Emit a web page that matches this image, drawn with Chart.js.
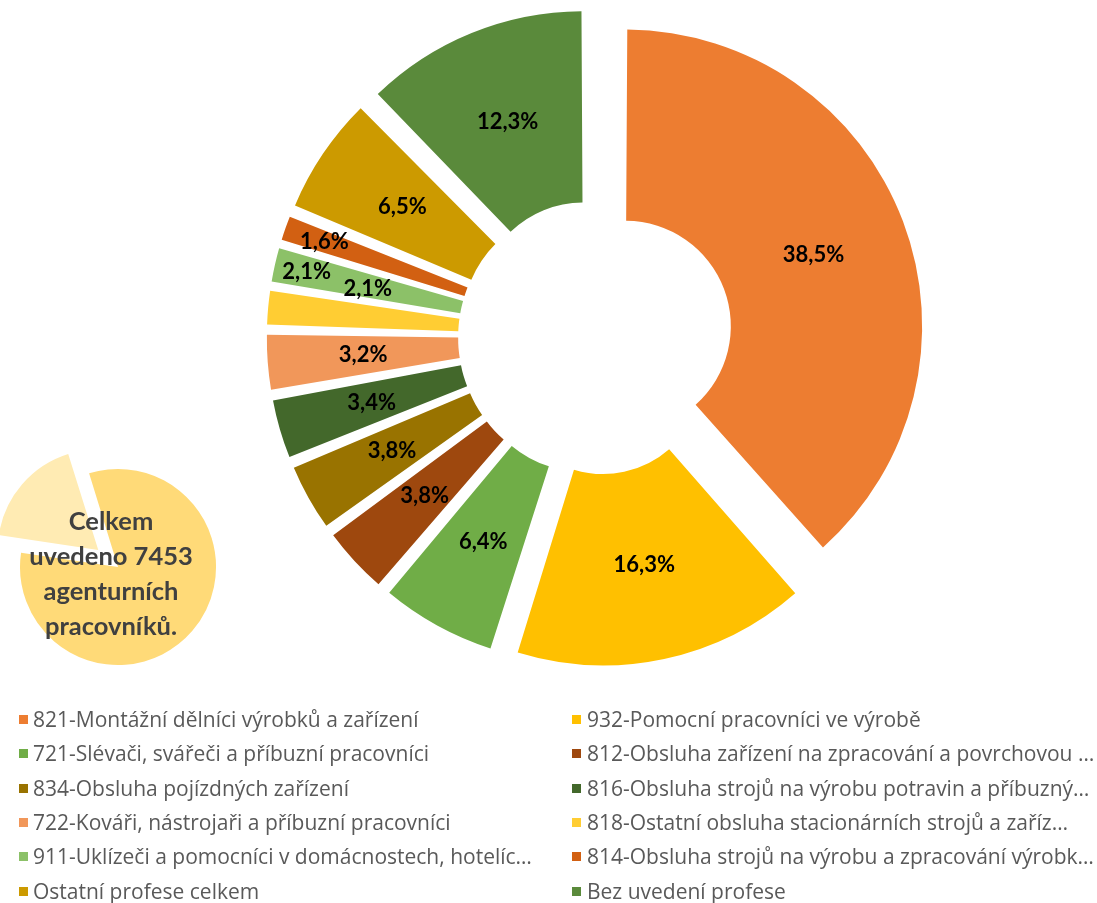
<!DOCTYPE html>
<html>
<head>
<meta charset="utf-8">
<script src="https://cdn.jsdelivr.net/npm/chart.js@4.4.0/dist/chart.umd.min.js"></script>
<style>
html,body{margin:0;padding:0;background:#fff;}
#wrap{position:relative;width:1097px;height:903px;overflow:hidden;background:#fff;}
#mainCanvas{position:absolute;left:0;top:0;}
#insetCanvas{position:absolute;left:0;top:447px;}
#insetText{position:absolute;left:11px;top:503px;width:200px;text-align:center;font:bold 25.5px Lato, sans-serif;line-height:35px;color:#404040;}
.lt{position:absolute;font:21px "Open Sans", sans-serif;line-height:26px;color:#595959;white-space:nowrap;}
.ls{position:absolute;width:9px;height:9px;}
</style>
</head>
<body>
<div id="wrap">
  <canvas id="mainCanvas" width="1097" height="903"></canvas>
  <canvas id="insetCanvas" width="236" height="240"></canvas>
  <div id="insetText"></div>
  <div id="legend"></div>
</div>
<script>
// ---- data ----
const categories = [
  '821-Montážní dělníci výrobků a zařízení',
  '932-Pomocní pracovníci ve výrobě',
  '721-Slévači, svářeči a příbuzní pracovníci',
  '812-Obsluha zařízení na zpracování a povrchovou …',
  '834-Obsluha pojízdných zařízení',
  '816-Obsluha strojů na výrobu potravin a příbuzný…',
  '722-Kováři, nástrojaři a příbuzní pracovníci',
  '818-Ostatní obsluha stacionárních strojů a zaříz…',
  '911-Uklízeči a pomocníci v domácnostech, hotelíc…',
  '814-Obsluha strojů na výrobu a zpracování výrobk…',
  'Ostatní profese celkem',
  'Bez uvedení profese'
];
const shares = [38.5, 16.3, 6.4, 3.8, 3.8, 3.4, 3.2, 2.1, 2.1, 1.6, 6.5, 12.3];
const colors = ['#ED7D31','#FFC000','#70AD47','#9E480E','#997300','#43682B',
                '#F1975A','#FFCD33','#8CC168','#D26012','#CC9A00','#5A8A3B'];
const totalWorkers = 7453;
const insetShares = [17.9, 82.1];
const insetColors = ['#FFEBB3', '#FFDA78'];

// ---- main doughnut ----
const TOTAL = shares.reduce((a, b) => a + b, 0);
const EXPLODE = 43;
function arcOffset(v) {
  const c = 2 * Math.PI * v / TOTAL;
  const fix = 1 - Math.sin(Math.min(Math.PI, c));
  return 4 * EXPLODE / (1 + fix);
}

const labelPlugin = {
  id: 'sliceLabels',
  afterDatasetsDraw(chart, args, opts) {
    const ctx = chart.ctx;
    const meta = chart.getDatasetMeta(0);
    ctx.save();
    ctx.font = 'bold 22px Lato, sans-serif';
    ctx.fillStyle = '#000';
    ctx.textAlign = 'center';
    ctx.textBaseline = 'middle';
    meta.data.forEach((arc, i) => {
      const p = arc.getProps(['x','y','startAngle','endAngle','innerRadius','outerRadius','circumference'], true);
      const t = (arc.options.offset || 0) / 4;
      const fix = 1 - Math.sin(Math.min(Math.PI, p.circumference));
      const mid = (p.startAngle + p.endAngle) / 2;
      const lm = mid + (opts.shift[i] || 0) * 2 * Math.PI / 100;
      const frac = opts.radius[i] !== undefined ? opts.radius[i] : 0.5;
      const r = p.innerRadius + t * fix + frac * (p.outerRadius - p.innerRadius);
      const px = p.x + Math.cos(mid) * t + Math.cos(lm) * r;
      const py = p.y + Math.sin(mid) * t + Math.sin(lm) * r;
      ctx.fillText(shares[i].toFixed(1).replace('.', ',') + '%', px, py);
    });
    ctx.restore();
  }
};

new Chart(document.getElementById('mainCanvas'), {
  type: 'doughnut',
  data: {
    labels: categories,
    datasets: [{
      data: shares,
      backgroundColor: colors,
      borderWidth: 0,
      offset: shares.map(arcOffset),
      hoverOffset: 0
    }]
  },
  options: {
    responsive: false,
    animation: false,
    events: [],
    radius: 285.7,
    cutout: '33.04%',
    layout: { padding: { left: 94, right: 0, top: 0, bottom: 228 } },
    plugins: {
      legend: { display: false },
      tooltip: { enabled: false },
      sliceLabels: {
        radius: {8: 0.83, 9: 0.785},
        shift: {7: 2.1}
      }
    }
  },
  plugins: [labelPlugin]
});

// ---- inset pie ----
new Chart(document.getElementById('insetCanvas'), {
  type: 'pie',
  data: {
    labels: ['', ''],
    datasets: [{
      data: insetShares,
      backgroundColor: insetColors,
      borderWidth: 0,
      offset: [104, 0],
      hoverOffset: 0
    }]
  },
  options: {
    responsive: false,
    animation: false,
    events: [],
    radius: 98,
    rotation: 278.4,
    plugins: { legend: { display: false }, tooltip: { enabled: false } }
  }
});
document.getElementById('insetText').innerHTML =
  'Celkem<br>uvedeno ' + totalWorkers + '<br>agenturních<br>pracovníků.';

// ---- legend ----
const legend = document.getElementById('legend');
categories.forEach((name, i) => {
  const col = i % 2, row = Math.floor(i / 2);
  const yc = 719 + row * 34.3;
  const sx = col ? 572 : 19;
  const tx = col ? 587 : 33;
  const sq = document.createElement('div');
  sq.className = 'ls';
  sq.style.left = sx + 'px';
  sq.style.top = (yc - 4) + 'px';
  sq.style.background = colors[i];
  legend.appendChild(sq);
  const tl = document.createElement('div');
  tl.className = 'lt';
  tl.style.left = tx + 'px';
  tl.style.top = (yc - 13) + 'px';
  tl.textContent = name;
  legend.appendChild(tl);
});
</script>
</body>
</html>
